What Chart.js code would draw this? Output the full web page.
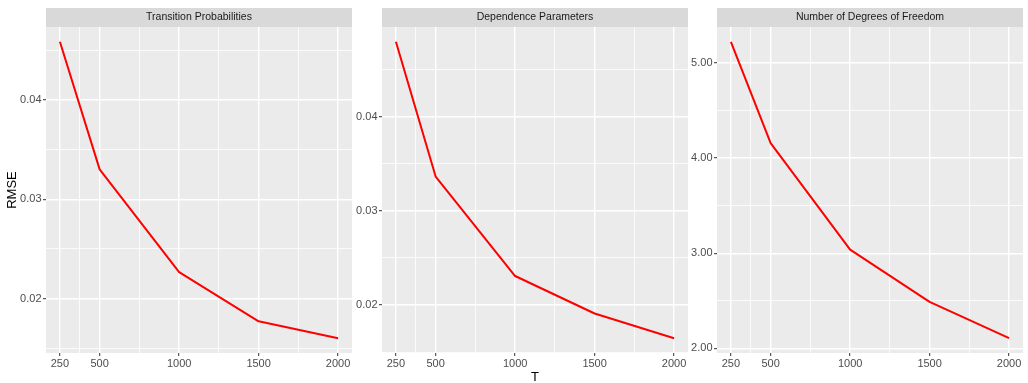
<!DOCTYPE html>
<html>
<head>
<meta charset="utf-8">
<script src="https://cdn.jsdelivr.net/npm/chart.js@4/dist/chart.umd.min.js"></script>
<style>
  html, body { margin: 0; padding: 0; background: #ffffff; }
  #wrap { position: relative; width: 1028px; height: 383px; overflow: hidden; background: #fff; }
  canvas { position: absolute; top: 0; }
</style>
</head>
<body>
<div id="wrap">
  <canvas id="c1" width="352" height="383" style="left:0px"></canvas>
  <canvas id="c2" width="336" height="383" style="left:352px"></canvas>
  <canvas id="c3" width="340" height="383" style="left:688px"></canvas>
</div>
<script>
// ---- data ----
const sampleSizes = [250, 500, 1000, 1500, 2000];
const transitionRMSE = [0.04585, 0.03301, 0.02267, 0.01772, 0.01602];
const dependenceRMSE = [0.04794, 0.03363, 0.02307, 0.01909, 0.01647];
const dofRMSE = [5.22, 4.157, 3.037, 2.49, 2.108];

const panelTitles = ['Transition Probabilities', 'Dependence Parameters', 'Number of Degrees of Freedom'];

const xMajorTicks = [250, 500, 1000, 1500, 2000];
const xMajorLabels = ['250', '500', '1000', '1500', '2000'];
const xMinorTicks = [375, 750, 1250, 1750];

const rmseMajorTicks = [0.02, 0.03, 0.04];
const rmseMajorLabels = ['0.02', '0.03', '0.04'];
const rmseMinorTicks = [0.015, 0.025, 0.035, 0.045];

const dofMajorTicks = [2, 3, 4, 5];
const dofMajorLabels = ['2.00', '3.00', '4.00', '5.00'];
const dofMinorTicks = [2.5, 3.5, 4.5];

// ---- styling ----
Chart.defaults.font.family = "'Liberation Sans', Arial, Helvetica, sans-serif";
Chart.defaults.animation = false;

function expandRange(vals) {
  const lo = Math.min(...vals), hi = Math.max(...vals);
  const pad = (hi - lo) * 0.05;
  return [lo - pad, hi + pad];
}
function idxOf(arr, v) {
  return arr.findIndex(m => Math.abs(m - v) < 1e-9);
}

const panelPlugin = {
  id: 'panelBg',
  beforeDraw(chart) {
    const { ctx, chartArea: a } = chart;
    ctx.save();
    ctx.fillStyle = '#EBEBEB';
    ctx.fillRect(a.left, a.top, a.right - a.left, a.bottom - a.top);
    ctx.fillStyle = '#D9D9D9';
    ctx.fillRect(a.left, 8, a.right - a.left, a.top - 8);
    ctx.restore();
  }
};

function makeChart(id, title, values, yMajor, yLabels, yMinor, yWidth, padRight, yTitle, xTitle) {
  const xRange = [162.5, 2087.5];
  const yRange = expandRange(values);
  const xAll = xMajorTicks.concat(xMinorTicks);
  const yAll = yMajor.concat(yMinor);

  const gridOpts = (majors) => ({
    color: '#FFFFFF',
    lineWidth: (c) => (c.tick && idxOf(majors, c.tick.value) >= 0) ? 1.4 : 0.8,
    drawTicks: true,
    tickLength: 3,
    tickColor: (c) => (c.tick && idxOf(majors, c.tick.value) >= 0) ? '#333333' : 'rgba(0,0,0,0)',
    tickWidth: 1
  });

  return new Chart(document.getElementById(id), {
    type: 'line',
    data: {
      datasets: [{
        data: sampleSizes.map((t, i) => ({ x: t, y: values[i] })),
        borderColor: '#FF0000',
        borderWidth: 2,
        pointRadius: 0,
        pointHoverRadius: 0,
        tension: 0,
        fill: false,
        borderJoinStyle: 'round',
        borderCapStyle: 'butt'
      }]
    },
    options: {
      responsive: false,
      devicePixelRatio: 1,
      animation: false,
      events: [],
      layout: { padding: { top: 8, left: 0, right: padRight, bottom: 0 } },
      plugins: {
        legend: { display: false },
        tooltip: { enabled: false },
        title: {
          display: true,
          text: title,
          fullSize: false,
          color: '#1A1A1A',
          font: { size: 10.5, weight: 'normal', lineHeight: '13px' },
          padding: { top: 3, bottom: 3 }
        }
      },
      scales: {
        x: {
          type: 'linear',
          min: xRange[0],
          max: xRange[1],
          afterBuildTicks: (s) => { s.ticks = xAll.map(v => ({ value: v })); },
          afterFit: (s) => { s.height = 30; },
          ticks: {
            autoSkip: false, maxRotation: 0, minRotation: 0,
            padding: 1.5,
            color: '#4D4D4D',
            font: { size: 11 },
            callback: (v) => { const i = idxOf(xMajorTicks, v); return i >= 0 ? xMajorLabels[i] : ''; }
          },
          grid: gridOpts(xMajorTicks),
          border: { display: false },
          title: {
            display: !!xTitle,
            text: xTitle || '',
            color: '#000000',
            font: { size: 13, lineHeight: '12px' },
            padding: { top: 0, bottom: 0 }
          }
        },
        y: {
          type: 'linear',
          min: yRange[0],
          max: yRange[1],
          afterBuildTicks: (s) => { s.ticks = yAll.map(v => ({ value: v })); },
          afterFit: (s) => { s.width = yWidth; },
          ticks: {
            autoSkip: false,
            padding: 1.5,
            color: '#4D4D4D',
            font: { size: 11 },
            callback: (v) => { const i = idxOf(yMajor, v); return i >= 0 ? yLabels[i] : ''; }
          },
          grid: gridOpts(yMajor),
          border: { display: false },
          title: {
            display: !!yTitle,
            text: yTitle || '',
            color: '#000000',
            font: { size: 13, lineHeight: '16px' },
            padding: { top: 4, bottom: 0 }
          }
        }
      }
    },
    plugins: [panelPlugin]
  });
}

makeChart('c1', panelTitles[0], transitionRMSE, rmseMajorTicks, rmseMajorLabels, rmseMinorTicks, 46, 0, 'RMSE', null);
makeChart('c2', panelTitles[1], dependenceRMSE, rmseMajorTicks, rmseMajorLabels, rmseMinorTicks, 30, 0, null, 'T');
makeChart('c3', panelTitles[2], dofRMSE, dofMajorTicks, dofMajorLabels, dofMinorTicks, 29, 5, null, null);
</script>
</body>
</html>
